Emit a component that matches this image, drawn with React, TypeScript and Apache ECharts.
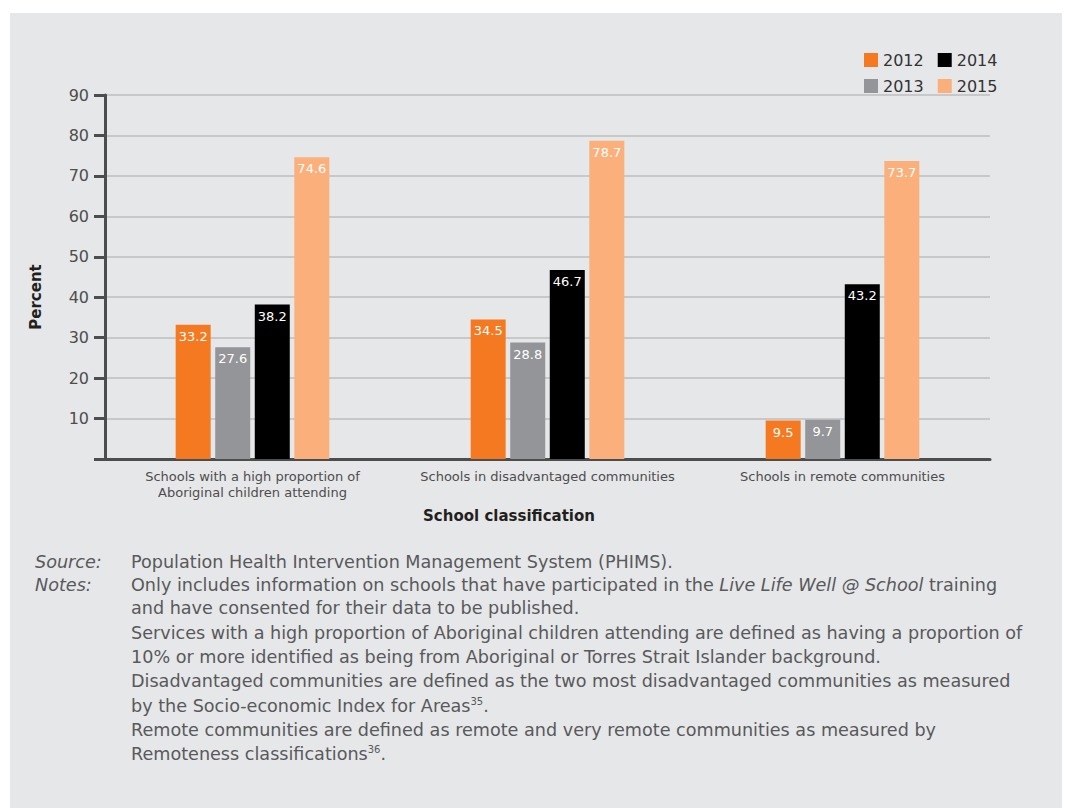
import React, { useEffect, useRef } from "react";
import * as echarts from "echarts";

const categories = [
  "Schools with a high proportion of\nAboriginal children attending",
  "Schools in disadvantaged communities",
  "Schools in remote communities",
];
const years = ["2012", "2013", "2014", "2015"];
const values2012 = [33.2, 34.5, 9.5];
const values2013 = [27.6, 28.8, 9.7];
const values2014 = [38.2, 46.7, 43.2];
const values2015 = [74.6, 78.7, 73.7];
const colors = ["#f47920", "#939598", "#000000", "#fbb07c"];
const yTicks = { min: 0, max: 90, interval: 10 };

const sourceLine = "Population Health Intervention Management System (PHIMS).";
const noteLines = [
  "Only includes information on schools that have participated in the {i|Live Life Well @ School} training",
  "and have consented for their data to be published.",
  "Services with a high proportion of Aboriginal children attending are defined as having a proportion of",
  "10% or more identified as being from Aboriginal or Torres Strait Islander background.",
  "Disadvantaged communities are defined as the two most disadvantaged communities as measured",
  "by the Socio-economic Index for Areas{sup|35}.",
  "Remote communities are defined as remote and very remote communities as measured by",
  "Remoteness classifications{sup|36}.",
];

const FONT = "'DejaVu Sans', 'Open Sans', sans-serif";
const TXT = "#58595b";
const NOTE_SIZE = 17.6;

export default function App() {
  const ref = useRef<HTMLDivElement>(null);
  useEffect(() => {
    if (!ref.current) return;
    const chart = echarts.init(ref.current, undefined, { renderer: "svg" });
    const seriesData = [values2012, values2013, values2014, values2015];
    const rich = {
      i: { fontStyle: "italic", fontSize: NOTE_SIZE, fontFamily: FONT, fill: TXT },
      sup: { fontSize: 10, fontFamily: FONT, fill: TXT, verticalAlign: "top", lineHeight: 20 },
    };
    const noteGraphics: any[] = [];
    noteGraphics.push({
      type: "text", left: 35, top: 553,
      style: { text: "Source:", font: `italic ${NOTE_SIZE}px ${FONT}`, fill: TXT },
    });
    noteGraphics.push({
      type: "text", left: 131, top: 553,
      style: { text: sourceLine, font: `${NOTE_SIZE}px ${FONT}`, fill: TXT },
    });
    noteGraphics.push({
      type: "text", left: 35, top: 576,
      style: { text: "Notes:", font: `italic ${NOTE_SIZE}px ${FONT}`, fill: TXT },
    });
    const ys = [576, 599, 624, 648, 672, 696, 721, 744];
    noteLines.forEach((t, k) => {
      noteGraphics.push({
        type: "text", left: 131, top: ys[k],
        style: { text: t, font: `${NOTE_SIZE}px ${FONT}`, fill: TXT, rich },
      });
    });

    chart.setOption({
      animation: false,
      backgroundColor: "#ffffff",
      color: colors,
      graphic: [
        {
          type: "rect", left: 10, top: 13, z: -10,
          shape: { width: 1052, height: 800 },
          style: { fill: "#e6e7e8" },
        },
        {
          type: "text", x: 509, y: 516,
          style: {
            text: "School classification", font: `600 15px ${FONT}`, fill: "#231f20",
            align: "center", verticalAlign: "middle",
          },
        },
        {
          type: "text", x: 36, y: 297, rotation: Math.PI / 2,
          style: {
            text: "Percent", font: `600 15px ${FONT}`, fill: "#231f20",
            align: "center", verticalAlign: "middle",
          },
        },
        ...noteGraphics,
      ],
      legend: [
        {
          data: ["2012", "2014"], left: 859, top: 47, itemWidth: 14, itemHeight: 14,
          itemGap: 14, icon: "rect",
          textStyle: { fontSize: 16, fontFamily: FONT, color: "#333", width: 40 },
        },
        {
          data: ["2013", "2015"], left: 859, top: 73, itemWidth: 14, itemHeight: 14,
          itemGap: 14, icon: "rect",
          textStyle: { fontSize: 16, fontFamily: FONT, color: "#333", width: 40 },
        },
      ],
      grid: { left: 105, right: 77, top: 95, bottom: 349, containLabel: false },
      xAxis: {
        type: "category",
        data: categories,
        axisLine: { lineStyle: { color: "#4d4d4d", width: 3 } },
        axisTick: { show: false },
        axisLabel: {
          interval: 0,
          color: "#4d4d4d", fontSize: 13, fontFamily: FONT, lineHeight: 16, margin: 9,
        },
      },
      yAxis: {
        type: "value",
        min: yTicks.min, max: yTicks.max, interval: yTicks.interval,
        axisLine: { show: true, lineStyle: { color: "#4d4d4d", width: 3 } },
        axisTick: { show: true, length: 11, lineStyle: { color: "#4d4d4d", width: 3 } },
        axisLabel: {
          color: "#4d4d4d", fontSize: 16, fontFamily: FONT, margin: 16,
          formatter: (v: number) => (v === 0 ? "" : String(v)),
        },
        splitLine: { lineStyle: { color: "#bcbec0", width: 1.5 } },
      },
      series: years.map((y, k) => ({
        name: y,
        type: "bar",
        data: seriesData[k],
        barWidth: 35,
        barGap: "13%",
        itemStyle: { color: colors[k] },
        label: {
          show: true, position: "insideTop", distance: 5,
          color: "#ffffff", fontSize: 13, fontFamily: FONT,
          formatter: (p: any) => p.value.toFixed(1),
        },
      })),
    });
    return () => chart.dispose();
  }, []);
  return (
    <div
      ref={ref}
      style={{ position: "fixed", left: 0, top: 0, width: 1067, height: 808 }}
    />
  );
}
